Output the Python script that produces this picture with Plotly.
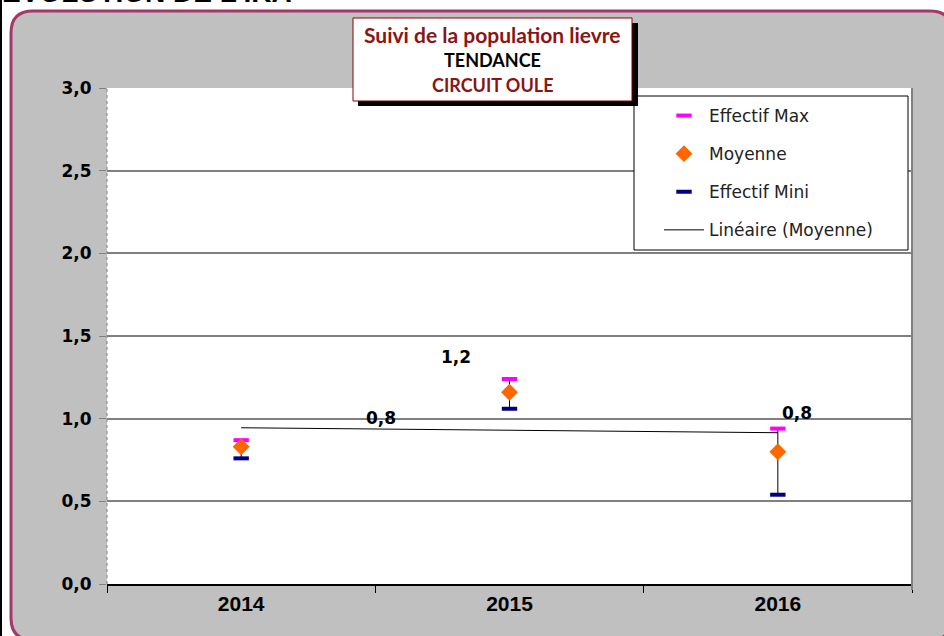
import numpy as np
import plotly.graph_objects as go

# ---------------- data ----------------
years = ["2014", "2015", "2016"]
effectif_max = [0.87, 1.24, 0.94]
moyenne = [0.83, 1.16, 0.80]
effectif_min = [0.76, 1.06, 0.54]
y_ticks = [0.0, 0.5, 1.0, 1.5, 2.0, 2.5, 3.0]
title_lines = ["Suivi de la population lievre", "TENDANCE", "CIRCUIT OULE"]
top_text = "EVOLUTION DE L'IKA"

# data-label positions (category index, y value) as placed in the original
label_pos = [(0.52, 1.005), (0.80, 1.373), (2.07, 1.034)]

W, H = 944, 636
ML, MR, MT, MB = 107, 32, 88, 52
PW, PH = W - ML - MR, H - MT - MB


def fx(px):
    return (px - ML) / PW


def fy(py):
    return (H - MB - py) / PH


idx = np.arange(len(years))
slope, intercept = np.polyfit(idx, moyenne, 1)
trend = [intercept + slope * i for i in idx]

fig = go.Figure()

# vertical range lines (min -> max)
ex, ey = [], []
for c, lo, hi in zip(years, effectif_min, effectif_max):
    ex += [c, c, None]
    ey += [lo, hi, None]
fig.add_trace(go.Scatter(x=ex, y=ey, mode="lines", line=dict(color="black", width=1),
                         showlegend=False, hoverinfo="skip"))

fig.add_trace(go.Scatter(x=years, y=effectif_max, mode="markers", name="Effectif Max",
                         legendgroup="a",
                         marker=dict(symbol="line-ew", size=11,
                                     line=dict(color="#FF00FF", width=4))))
fig.add_trace(go.Scatter(x=years, y=moyenne, mode="markers", name="Moyenne",
                         legendgroup="b",
                         marker=dict(symbol="diamond", size=13, color="#FF6600")))
fig.add_trace(go.Scatter(x=years, y=effectif_min, mode="markers", name="Effectif Mini",
                         legendgroup="c",
                         marker=dict(symbol="line-ew", size=11,
                                     line=dict(color="#000080", width=4))))
fig.add_trace(go.Scatter(x=years, y=trend, mode="lines", name="Linéaire (Moyenne)",
                         legendgroup="d", line=dict(color="black", width=1)))

# ---------------- shapes ----------------
shapes = []
# outer rounded frame
L, T, R, B, r = 11, 11, 952, 640, 22
path = (f"M {fx(L)},{fy(T + r)} Q {fx(L)},{fy(T)} {fx(L + r)},{fy(T)} "
        f"L {fx(R - r)},{fy(T)} Q {fx(R)},{fy(T)} {fx(R)},{fy(T + r)} "
        f"L {fx(R)},{fy(B - r)} Q {fx(R)},{fy(B)} {fx(R - r)},{fy(B)} "
        f"L {fx(L + r)},{fy(B)} Q {fx(L)},{fy(B)} {fx(L)},{fy(B - r)} Z")
shapes.append(dict(type="path", xref="paper", yref="paper", path=path,
                   fillcolor="#C0C0C0", line=dict(color="#A3386C", width=3), layer="below"))
# left black strip
shapes.append(dict(type="rect", xref="paper", yref="paper", x0=fx(0), x1=fx(2),
                   y0=fy(H), y1=fy(0), fillcolor="black", line=dict(width=0), layer="below"))
# plot area white
shapes.append(dict(type="rect", xref="paper", yref="paper", x0=0, x1=1, y0=0, y1=1,
                   fillcolor="white", line=dict(width=0), layer="below"))
# right border
shapes.append(dict(type="line", xref="paper", yref="paper", x0=1, x1=1, y0=fy(590), y1=1,
                   line=dict(color="#808080", width=2), layer="above"))
# left dotted border
shapes.append(dict(type="line", xref="paper", yref="paper", x0=0, x1=0, y0=0, y1=1,
                   line=dict(color="#808080", width=1, dash="dot"), layer="above"))
# legend box
shapes.append(dict(type="rect", xref="paper", yref="paper", x0=fx(634), x1=fx(908),
                   y0=fy(250), y1=fy(96), fillcolor="white",
                   line=dict(color="black", width=1), layer="above"))
# title box shadow + box
shapes.append(dict(type="rect", xref="paper", yref="paper", x0=fx(358), x1=fx(638),
                   y0=fy(106), y1=fy(23), fillcolor="black", line=dict(width=0), layer="above"))
shapes.append(dict(type="rect", xref="paper", yref="paper", x0=fx(353), x1=fx(632),
                   y0=fy(101), y1=fy(18), fillcolor="white",
                   line=dict(color="#8B0000", width=1), layer="above"))

# ---------------- annotations ----------------
ann = []
title_colors = ["#8B1414", "black", "#8B1414"]
title_y = [35, 60, 85]
title_sizes = [21, 18, 18]
for t, c, yy, s in zip(title_lines, title_colors, title_y, title_sizes):
    ann.append(dict(text=t, xref="paper", yref="paper", x=fx(492.5), y=fy(yy),
                    xanchor="center", yanchor="middle", showarrow=False,
                    font=dict(family="Lato", size=s, color=c, weight="bold")))
for (px_, py_), v in zip(label_pos, moyenne):
    ann.append(dict(text=f"{v:.1f}".replace(".", ","), x=px_, y=py_, xref="x", yref="y",
                    showarrow=False, xanchor="center", yanchor="middle",
                    font=dict(family="DejaVu Sans", size=17, color="black", weight="bold")))
ann.append(dict(text=top_text, xref="paper", yref="paper", x=fx(0), y=fy(9.5),
                xanchor="left", yanchor="bottom", showarrow=False,
                font=dict(family="Liberation Sans", size=28, color="black", weight="bold")))

fig.update_layout(
    width=W, height=H,
    margin=dict(l=ML, r=MR, t=MT, b=MB, pad=0),
    paper_bgcolor="white", plot_bgcolor="white",
    separators=", ",
    shapes=shapes, annotations=ann,
    showlegend=True,
    legend=dict(x=fx(659), y=fy(98), xanchor="left", yanchor="top",
                bgcolor="rgba(0,0,0,0)", borderwidth=0, tracegroupgap=13,
                itemwidth=40,
                font=dict(family="DejaVu Sans", size=17, color="#222222")),
    xaxis=dict(type="category", range=[-0.5, 2.5], tickson="boundaries",
               ticks="outside", ticklen=7, tickcolor="black", tickwidth=1,
               showline=True, linecolor="black", linewidth=2, showgrid=False,
               tickfont=dict(family="Liberation Sans", size=21, color="black", weight="bold")),
    yaxis=dict(range=[0, 3], tickvals=y_ticks, tickformat=".1f",
               ticks="outside", ticklen=7, tickcolor="#808080", tickwidth=1,
               showgrid=True, gridcolor="#808080", gridwidth=1.5, zeroline=False,
               showline=False, ticklabelstandoff=4,
               tickfont=dict(family="DejaVu Sans", size=17, color="black", weight="bold")),
)

fig.write_html("out.html", config={"displayModeBar": False},
               post_script="document.body.style.margin='0';")
